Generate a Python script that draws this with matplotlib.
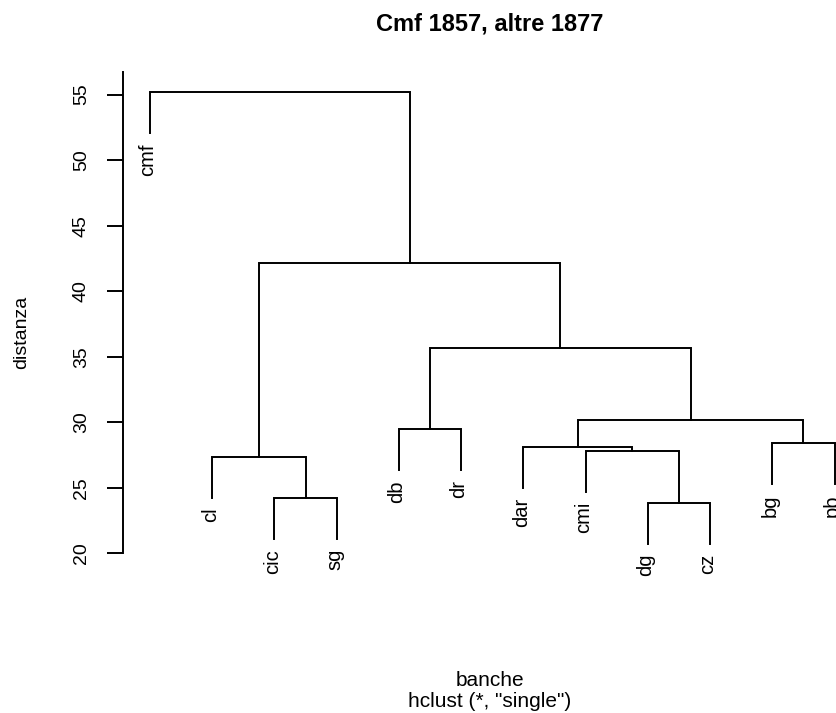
import matplotlib
matplotlib.use('Agg')
import matplotlib.pyplot as plt

# leaves in plotting order
labels = ['cmf', 'cl', 'cic', 'sg', 'db', 'dr', 'dar', 'cmi', 'dg', 'cz', 'bg', 'pb']

# merges as in R's hclust: negative = leaf (1-based), positive = earlier merge
merge_left = [-9, -3, -2, -8, -7, -11, -5, 5, 7, 3, -1]
merge_right = [-10, -4, 2, 1, 4, -12, -6, 6, 8, 9, 10]
heights = [23.86, 24.20, 27.35, 27.83, 28.13, 28.39, 29.46, 30.17, 35.66, 42.12, 55.16]

title = 'Cmf 1857, altre 1877'
ylabel = 'distanza'
xlabel = 'banche'
sublabel = 'hclust (*, "single")'
yticks = [20, 25, 30, 35, 40, 45, 50, 55]

W, H = 837, 713
font = ['Liberation Sans', 'DejaVu Sans']


def plot():
    fig = plt.figure(figsize=(W / 100, H / 100), dpi=100)
    # plot region in pixels: x 122.6..862, y 71.7..630.9 (from top)
    ax = fig.add_axes([122.6 / W, 82.1 / H, (862 - 122.6) / W, (630.9 - 71.7) / H])
    ax.set_xlim(0.56, 12.44)
    ax.set_ylim(14.08, 56.74)

    hang = 0.1 * (max(heights) - min(heights))
    pos = {}
    for i, (a, b, h) in enumerate(zip(merge_left, merge_right, heights)):
        ends = []
        for c in (a, b):
            if c < 0:
                x = -c
                y = h - hang
                ax.annotate(labels[-c - 1], (x, y), xytext=(-1.5, -7),
                            textcoords='offset points', rotation=90,
                            ha='center', va='top', fontsize=14.5,
                            family=font, annotation_clip=False)
            else:
                x, y = pos[c]
            ends.append((x, y))
        (x1, y1), (x2, y2) = ends
        ax.plot([x1, x1, x2, x2], [y1, h, h, y2], c='k', lw=1.4,
                solid_joinstyle='miter', clip_on=False)
        pos[i + 1] = ((x1 + x2) / 2, h)

    for s in ['top', 'right', 'bottom']:
        ax.spines[s].set_visible(False)
    ax.spines['left'].set_bounds(20, 56.74)
    ax.spines['left'].set_linewidth(1.4)
    ax.set_xticks([])
    ax.set_yticks(yticks)
    ax.tick_params(axis='y', length=11.5, width=1.4, pad=12)
    for t in ax.get_yticklabels():
        t.set_rotation(90)
        t.set_va('center')
        t.set_fontsize(14)
        t.set_family(font)

    fig.text(490 / W, 1 - 24.5 / H, title, ha='center', va='center',
             fontsize=17, fontweight='bold', family=font)
    fig.text(22 / W, 1 - 332 / H, ylabel, ha='center', va='center',
             rotation=90, fontsize=14, family=font)
    fig.text(490 / W, 1 - 681 / H, xlabel, ha='center', va='center',
             fontsize=15, family=font)
    fig.text(490 / W, 1 - 701.5 / H, sublabel, ha='center', va='center',
             fontsize=15, family=font)

    fig.savefig('out.png', dpi=100)


if __name__ == '__main__':
    plot()
